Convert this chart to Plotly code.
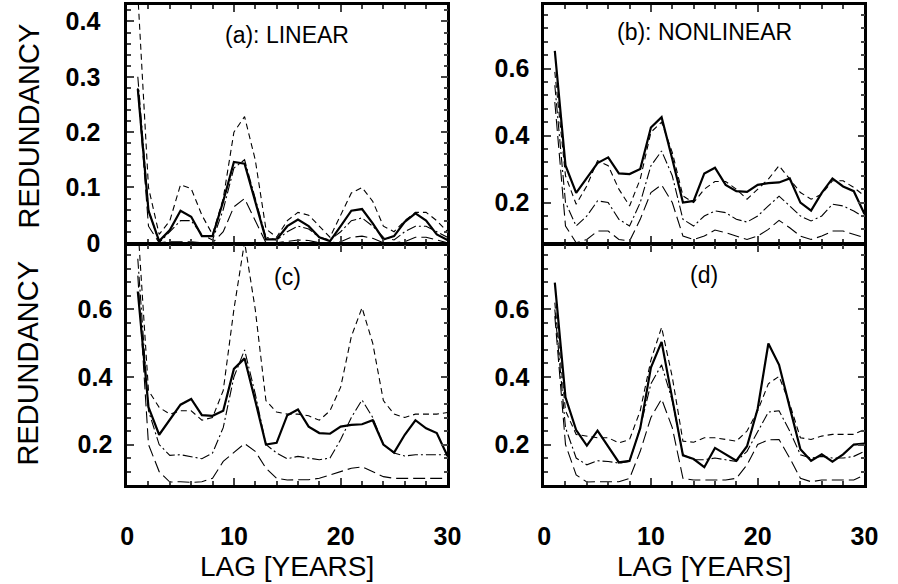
import plotly.graph_objects as go

LAGS = list(range(1, 31))

# Panel (a): LINEAR
A_DATA = [0.278, 0.058, 0.003, 0.023, 0.058, 0.047, 0.012, 0.012, 0.075, 0.146,
          0.143, 0.075, 0.006, 0.006, 0.030, 0.042, 0.030, 0.010, 0.003, 0.030,
          0.058, 0.061, 0.035, 0.006, 0.012, 0.038, 0.053, 0.040, 0.015, 0.005]
A_UP = [0.45, 0.10, 0.015, 0.04, 0.105, 0.098, 0.05, 0.015, 0.08, 0.20,
        0.228, 0.15, 0.025, 0.01, 0.04, 0.055, 0.05, 0.03, 0.01, 0.05,
        0.09, 0.10, 0.075, 0.03, 0.02, 0.04, 0.055, 0.055, 0.04, 0.02]
A_MID = [0.30, 0.06, 0.0, 0.02, 0.04, 0.04, 0.015, 0.005, 0.06, 0.135,
         0.15, 0.08, 0.01, 0.005, 0.02, 0.03, 0.025, 0.01, 0.005, 0.02,
         0.04, 0.045, 0.03, 0.01, 0.005, 0.02, 0.03, 0.03, 0.02, 0.01]
A_LOW = [0.28, 0.03, 0.0, 0.002, 0.002, 0.002, 0.0, 0.0, 0.02, 0.065,
         0.08, 0.04, 0.0, 0.0, 0.002, 0.005, 0.004, 0.0, 0.0, 0.002,
         0.01, 0.012, 0.008, 0.0, 0.0, 0.002, 0.01, 0.01, 0.005, 0.0]

# Panels (b) and (c): NONLINEAR redundancy of the data
NL_DATA = [0.653, 0.311, 0.229, 0.272, 0.318, 0.335, 0.287, 0.285, 0.300, 0.424,
           0.455, 0.330, 0.200, 0.205, 0.287, 0.304, 0.253, 0.234, 0.232, 0.253,
           0.258, 0.260, 0.272, 0.200, 0.176, 0.229, 0.272, 0.248, 0.234, 0.166]
B_UP = [0.59, 0.28, 0.195, 0.25, 0.325, 0.31, 0.24, 0.19, 0.27, 0.41,
        0.44, 0.35, 0.22, 0.20, 0.24, 0.263, 0.263, 0.24, 0.21, 0.24,
        0.27, 0.31, 0.27, 0.23, 0.21, 0.225, 0.265, 0.265, 0.245, 0.22]
B_MID = [0.55, 0.20, 0.13, 0.16, 0.205, 0.20, 0.15, 0.13, 0.20, 0.31,
         0.354, 0.28, 0.15, 0.13, 0.16, 0.175, 0.17, 0.15, 0.142, 0.16,
         0.19, 0.219, 0.19, 0.16, 0.145, 0.16, 0.195, 0.19, 0.175, 0.155]
B_LOW = [0.50, 0.13, 0.08, 0.09, 0.115, 0.115, 0.09, 0.085, 0.15, 0.23,
         0.253, 0.20, 0.10, 0.09, 0.10, 0.118, 0.11, 0.10, 0.09, 0.10,
         0.12, 0.147, 0.125, 0.10, 0.09, 0.10, 0.115, 0.115, 0.105, 0.095]

C_UP = [0.85, 0.36, 0.31, 0.29, 0.30, 0.30, 0.272, 0.28, 0.36, 0.60,
        0.80, 0.60, 0.33, 0.296, 0.29, 0.29, 0.285, 0.272, 0.30, 0.37,
        0.52, 0.605, 0.50, 0.33, 0.29, 0.28, 0.29, 0.29, 0.29, 0.295]
C_MID = [0.75, 0.30, 0.20, 0.168, 0.17, 0.165, 0.158, 0.175, 0.25, 0.40,
         0.48, 0.35, 0.20, 0.175, 0.158, 0.165, 0.16, 0.155, 0.16, 0.215,
         0.28, 0.332, 0.28, 0.20, 0.175, 0.166, 0.17, 0.17, 0.17, 0.17]
C_LOW = [0.70, 0.20, 0.12, 0.089, 0.09, 0.088, 0.09, 0.10, 0.15, 0.176,
         0.203, 0.18, 0.13, 0.10, 0.095, 0.096, 0.096, 0.10, 0.11, 0.12,
         0.13, 0.134, 0.12, 0.105, 0.10, 0.10, 0.10, 0.10, 0.10, 0.10]

# Panel (d)
D_DATA = [0.679, 0.340, 0.243, 0.197, 0.241, 0.195, 0.147, 0.152, 0.248, 0.428,
          0.504, 0.336, 0.168, 0.157, 0.133, 0.190, 0.171, 0.152, 0.195, 0.306,
          0.499, 0.436, 0.310, 0.186, 0.152, 0.171, 0.149, 0.171, 0.200, 0.203]
D_UP = [0.62, 0.30, 0.23, 0.224, 0.22, 0.22, 0.205, 0.215, 0.30, 0.45,
        0.547, 0.40, 0.21, 0.207, 0.22, 0.22, 0.215, 0.21, 0.24, 0.30,
        0.38, 0.402, 0.32, 0.22, 0.215, 0.225, 0.23, 0.23, 0.23, 0.245]
D_MID = [0.60, 0.25, 0.16, 0.14, 0.152, 0.15, 0.145, 0.15, 0.25, 0.38,
         0.436, 0.33, 0.17, 0.155, 0.155, 0.16, 0.155, 0.15, 0.18, 0.24,
         0.296, 0.30, 0.24, 0.17, 0.16, 0.165, 0.16, 0.16, 0.165, 0.18]
D_LOW = [0.58, 0.20, 0.11, 0.089, 0.09, 0.09, 0.09, 0.10, 0.18, 0.28,
         0.335, 0.25, 0.10, 0.095, 0.095, 0.095, 0.095, 0.10, 0.14, 0.20,
         0.214, 0.215, 0.16, 0.10, 0.09, 0.095, 0.095, 0.095, 0.095, 0.11]

PANEL_LABELS = ["(a): LINEAR", "(b): NONLINEAR", "(c)", "(d)"]
Y_TITLE = "REDUNDANCY"
X_TITLE = "LAG [YEARS]"

W, H = 898, 584
FONT = "Liberation Sans, Arial, sans-serif"

panels = [
    (A_DATA, A_UP, A_MID, A_LOW),
    (NL_DATA, B_UP, B_MID, B_LOW),
    (NL_DATA, C_UP, C_MID, C_LOW),
    (D_DATA, D_UP, D_MID, D_LOW),
]

# pixel boxes: (left, right, top, bottom)
boxes = [(123, 451, 5, 248.75), (550, 878, 5, 248.75),
         (123, 451, 251.25, 497), (550, 878, 251.25, 497)]

fig = go.Figure()
styles = [
    dict(width=2.2, dash="solid"),
    dict(width=1.1, dash="6px,4px"),
    dict(width=1.1, dash="10px,3px,2px,3px"),
    dict(width=1.1, dash="12px,5px"),
]

layout = dict(width=W, height=H, margin=dict(l=0, r=0, t=0, b=0),
              paper_bgcolor="white", plot_bgcolor="white", showlegend=False,
              font=dict(family=FONT, color="black"))

for i, (series, box) in enumerate(zip(panels, boxes)):
    ax = "" if i == 0 else str(i + 1)
    for s, st in zip(series, styles):
        fig.add_trace(go.Scatter(x=LAGS, y=s, mode="lines",
                                 line=dict(color="black", **st),
                                 xaxis="x" + ax, yaxis="y" + ax,
                                 hoverinfo="skip"))
    l, r, t, b = box
    bottom_row = i >= 2
    layout["xaxis" + ax] = dict(
        domain=[l / W, r / W], anchor="y" + ax, range=[0, 30],
        tickvals=[0, 10, 20, 30], ticks="inside", ticklen=7, tickwidth=1.5,
        minor=dict(ticks="inside", dtick=2, ticklen=4, tickwidth=1.5, tick0=0),
        showline=True, linewidth=2.5, linecolor="black", mirror="allticks",
        showgrid=False, zeroline=False, showticklabels=bottom_row,
        tickfont=dict(size=25, family=FONT, weight="bold"),
        ticklabelstandoff=27,
    )
    if i == 0:
        yr = [0, 0.43]
        ytv = [0, 0.1, 0.2, 0.3, 0.4]
        ymin = 0.02
        standoff = 19
    else:
        yr = [0.08, 0.79]
        ytv = [0.2, 0.4, 0.6]
        ymin = 0.04
        standoff = 7
    layout["yaxis" + ax] = dict(
        domain=[1 - b / H, 1 - t / H], anchor="x" + ax, range=yr,
        tickvals=ytv, ticks="inside", ticklen=7, tickwidth=1.5,
        minor=dict(ticks="inside", dtick=ymin, tick0=0, ticklen=4, tickwidth=1.5),
        showline=True, linewidth=2.5, linecolor="black", mirror="allticks",
        showgrid=False, zeroline=False,
        tickfont=dict(size=25, family=FONT, weight="bold"),
        ticklabelstandoff=standoff,
    )

fig.update_layout(**layout)

ann = []
label_pos = [(287, 36), (714, 33), (287, 284), (714, 282)]
for txt, (px, py) in zip(PANEL_LABELS, label_pos):
    ann.append(dict(text=txt, x=px / W, y=1 - py / H, xref="paper", yref="paper",
                    showarrow=False, xanchor="center", yanchor="middle",
                    font=dict(size=23, family=FONT, color="black")))
for py in (129, 372):
    ann.append(dict(text=Y_TITLE, x=22 / W, y=1 - py / H, xref="paper", yref="paper",
                    showarrow=False, textangle=-90, xanchor="center", yanchor="middle",
                    font=dict(size=29, family=FONT, color="black")))
for px in (287, 714):
    ann.append(dict(text=X_TITLE, x=px / W, y=1 - 580 / H, xref="paper", yref="paper",
                    showarrow=False, xanchor="center", yanchor="middle",
                    font=dict(size=28, family=FONT, color="black")))
fig.update_layout(annotations=ann)

fig.write_html("out.html")
